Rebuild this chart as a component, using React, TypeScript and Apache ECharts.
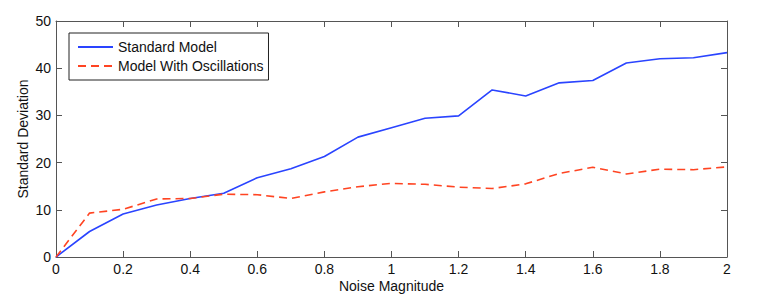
import React, { useEffect, useRef } from "react";
import * as echarts from "echarts";

const noise = [0, 0.1, 0.2, 0.3, 0.4, 0.5, 0.6, 0.7, 0.8, 0.9, 1.0, 1.1, 1.2, 1.3, 1.4, 1.5, 1.6, 1.7, 1.8, 1.9, 2.0];
const standardModel = [0, 5.4, 9.1, 11.0, 12.4, 13.5, 16.8, 18.7, 21.3, 25.4, 27.4, 29.4, 29.9, 35.4, 34.1, 36.9, 37.4, 41.1, 42.0, 42.2, 43.3];
const oscillationModel = [0, 9.3, 10.1, 12.3, 12.4, 13.3, 13.2, 12.4, 13.8, 14.9, 15.6, 15.4, 14.8, 14.5, 15.5, 17.7, 19.0, 17.6, 18.6, 18.5, 19.1];
const seriesNames = ["Standard Model", "Model With Oscillations"];

const FONT = "'Liberation Sans', Arial, Helvetica, sans-serif";
const AXIS_COLOR = "#555";

export default function App() {
  const ref = useRef<HTMLDivElement>(null);
  useEffect(() => {
    if (!ref.current) return;
    const chart = echarts.init(ref.current, undefined, { renderer: "svg" });
    const fmt = (v: number) => String(Math.round(v * 10) / 10);
    const baseAxis = {
      axisLine: { show: true, onZero: false, lineStyle: { color: AXIS_COLOR, width: 1 } },
      axisTick: { show: true, inside: true, length: 6, lineStyle: { color: AXIS_COLOR } },
      splitLine: { show: false },
    };
    chart.setOption({
      animation: false,
      textStyle: { fontFamily: FONT },
      grid: { left: 56, right: 48, top: 21, bottom: 37, containLabel: false, outerBoundsMode: "none" },
      legend: {
        show: true,
        orient: "vertical",
        left: 69,
        top: 33,
        padding: [7, 5, 7, 8],
        itemWidth: 35,
        itemHeight: 14,
        itemGap: 5,
        borderColor: "#222",
        borderWidth: 1,
        backgroundColor: "#fff",
        itemStyle: { color: "transparent", borderColor: "transparent", borderWidth: 0, opacity: 0 },
        textStyle: { fontFamily: FONT, fontSize: 14, color: "#111" },
        data: seriesNames,
      },
      xAxis: [
        {
          ...baseAxis,
          type: "value",
          min: 0,
          max: 2,
          interval: 0.2,
          position: "bottom",
          name: "Noise Magnitude",
          nameLocation: "middle",
          nameGap: 22,
          nameMoveOverlap: false,
          nameTextStyle: { fontFamily: FONT, fontSize: 14, color: "#111", verticalAlign: "top", lineHeight: 14 },
          axisLabel: { fontFamily: FONT, fontSize: 14, color: "#111", margin: 5, lineHeight: 14, formatter: fmt },
        },
        {
          ...baseAxis,
          type: "value",
          min: 0,
          max: 2,
          interval: 0.2,
          position: "top",
          axisLabel: { show: false },
        },
      ],
      yAxis: [
        {
          ...baseAxis,
          type: "value",
          min: 0,
          max: 50,
          interval: 10,
          position: "left",
          name: "Standard Deviation",
          nameLocation: "middle",
          nameGap: 26,
          nameMoveOverlap: false,
          nameTextStyle: { fontFamily: FONT, fontSize: 14, color: "#111" },
          axisLabel: { fontFamily: FONT, fontSize: 14, color: "#111", margin: 5 },
        },
        {
          ...baseAxis,
          type: "value",
          min: 0,
          max: 50,
          interval: 10,
          position: "right",
          axisLabel: { show: false },
        },
      ],
      series: [
        {
          name: seriesNames[0],
          type: "line",
          xAxisIndex: 0,
          yAxisIndex: 0,
          symbol: "none",
          symbolSize: 0,
          showSymbol: false,
          color: "#2a44ff",
          lineStyle: { color: "#2a44ff", width: 1.6 },
          data: noise.map((x, i) => [x, standardModel[i]]),
        },
        {
          name: seriesNames[1],
          type: "line",
          xAxisIndex: 0,
          yAxisIndex: 0,
          symbol: "none",
          symbolSize: 0,
          showSymbol: false,
          color: "#ff4422",
          lineStyle: { color: "#ff4422", width: 1.6, type: [8, 5] },
          data: noise.map((x, i) => [x, oscillationModel[i]]),
        },
      ],
    });
    return () => chart.dispose();
  }, []);
  return <div ref={ref} style={{ width: 775, height: 294, position: "absolute", left: 0, top: 0 }} />;
}
